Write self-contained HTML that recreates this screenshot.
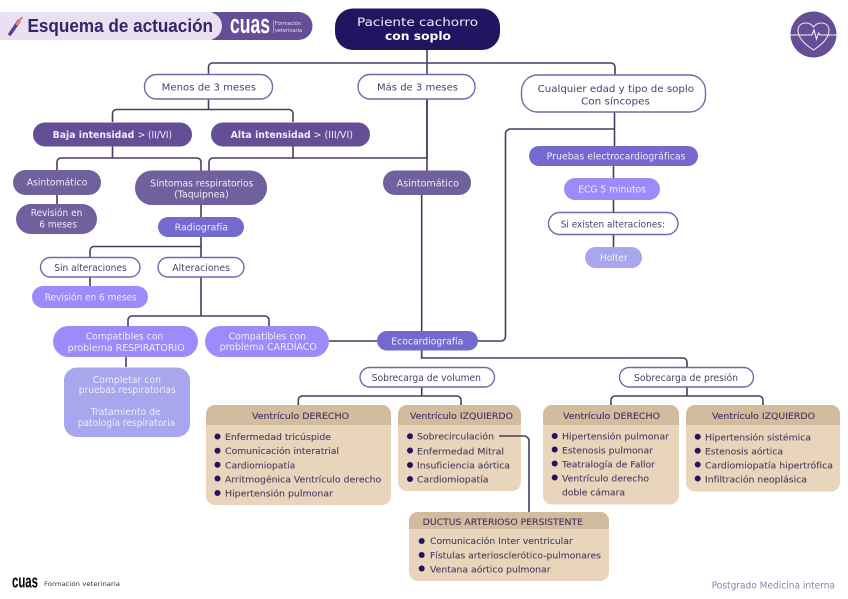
<!DOCTYPE html>
<html lang="es"><head><meta charset="utf-8"><title>Esquema de actuación</title>
<style>
html,body{margin:0;padding:0;background:#fff;width:848px;height:599px;overflow:hidden}
svg{display:block}
text{font-family:"DejaVu Sans","Liberation Sans",sans-serif;font-size:9.3px;fill:#4a3f6b}
.w{fill:#f0ebfa}
.b{font-weight:bold}
.p{fill:#fff;stroke:#7766a8;stroke-width:1.4}
.l{fill:none;stroke:#4a3a62;stroke-width:1.6}
.t{fill:#4a3f63;font-size:9.1px;stroke:#4a3f63;stroke-width:.12}
.h{fill:#3f3566;font-size:9.1px;stroke:#3f3566;stroke-width:.12}
.d{fill:#231462}
</style></head><body>
<svg width="848" height="599" viewBox="0 0 848 599" xmlns="http://www.w3.org/2000/svg">
<rect width="848" height="599" fill="#fff"/>
<!-- connectors -->
<g class="l">
<path d="M427 49V195"/>
<path d="M208.500 74V67a4 4 0 0 1 4-4H611a4 4 0 0 1 4 4V75"/>
<path d="M421.700 195V358M421.700 367V396M427 99V158"/>
<path d="M208.500 99V109.500M112.500 122V113.500a4 4 0 0 1 4-4H289a4 4 0 0 1 4 4V122"/>
<path d="M112.500 146V158M57 170V162a4 4 0 0 1 4-4H197a4 4 0 0 1 4 4V171"/>
<path d="M293 146V158M209 171V162a4 4 0 0 1 4-4H427"/>
<path d="M57 195V204M201 205V257M201 246.500H94a4 4 0 0 0-4 4V257M90 277V286"/>
<path d="M201 277V316M128 326V320a4 4 0 0 1 4-4H265a4 4 0 0 1 4 4V326M126 357V367"/>
<path d="M329 341H377M477 341H501a4.500 4.500 0 0 0 4.500-4.500V134a5 5 0 0 1 5-5H614.500"/>
<path d="M614.500 112V147M613.500 166V247"/>
<path d="M421.700 350V358H683a4 4 0 0 1 4 4V367M687 387V396"/>
<path d="M298.300 405V400a4 4 0 0 1 4-4H457a4 4 0 0 1 4 4V405"/>
<path d="M611 405V400a4 4 0 0 1 4-4H759a4 4 0 0 1 4 4V405"/>
</g>
<!-- header -->
<rect x="200" y="12" width="112.500" height="28" rx="14" fill="#644f97"/>
<path d="M0 12H208a14 14 0 0 1 0 28H0Z" fill="#e9e1f1"/>
<path d="M10 34L19 21" stroke="#5a3fa0" stroke-width="3.500" stroke-linecap="round"/>
<path d="M17 24L21.500 18" stroke="#ee8a6a" stroke-width="2.500" stroke-linecap="round"/>
<text class="b" x="27.500" y="32" textLength="185.500" lengthAdjust="spacingAndGlyphs" style="font-family:'Liberation Sans',sans-serif;font-size:18.500px;fill:#2f2766">Esquema de actuación</text>
<text class="b" x="230" y="33" textLength="40" lengthAdjust="spacingAndGlyphs" style="font-family:'Liberation Sans',sans-serif;font-size:27px;fill:#fff">cuas</text>
<rect x="273" y="20" width="0.600" height="13" fill="#d8d0ea"/>
<text x="275" y="25" textLength="26" lengthAdjust="spacingAndGlyphs" style="font-size:5px;fill:#e8e2f4">Formación</text>
<text x="275" y="32" textLength="27" lengthAdjust="spacingAndGlyphs" style="font-size:5px;fill:#e8e2f4">veterinaria</text>
<!-- heart icon -->
<circle cx="813.500" cy="34.500" r="23" fill="#644f97"/>
<path d="M813.500 50C806 45 798.500 39 798 31C797.700 25 802 23 806 23C809.500 23 812 25 813.500 27C815 25 817.500 23 821 23C825 23 829.300 25 829 31C828.500 39 821 45 813.500 50Z" fill="none" stroke="#e9e1f1" stroke-width="1.100"/>
<path d="M790.500 35H812L814 30L816.500 39L818.500 33L820 35H836.500" fill="none" stroke="#f4f0fa" stroke-width="1.100"/>
<!-- root -->
<rect x="335" y="8.500" width="165" height="41.500" rx="18" fill="#231462"/>
<text class="w" x="357" y="26" textLength="121" lengthAdjust="spacingAndGlyphs" style="font-size:11.500px">Paciente cachorro</text>
<text class="b" x="385" y="40" textLength="66" lengthAdjust="spacingAndGlyphs" style="font-size:11.500px;fill:#fff">con soplo</text>
<!-- level 1 -->
<rect class="p" x="144.500" y="74.500" width="128" height="24.500" rx="12"/>
<text x="161.700" y="90.500" textLength="94.300" lengthAdjust="spacingAndGlyphs">Menos de 3 meses</text>
<rect class="p" x="358" y="74.500" width="117" height="24.500" rx="12"/>
<text x="377" y="90.500" textLength="81" lengthAdjust="spacingAndGlyphs">Más de 3 meses</text>
<rect class="p" x="521.500" y="75" width="184" height="37" rx="16"/>
<text x="537.600" y="92" textLength="156.400" lengthAdjust="spacingAndGlyphs">Cualquier edad y tipo de soplo</text>
<text x="581" y="104.500" textLength="69" lengthAdjust="spacingAndGlyphs">Con síncopes</text>
<!-- intensity -->
<rect x="33" y="122.500" width="159" height="24" rx="12" fill="#644f97"/>
<text class="w b" x="52.700" y="138" textLength="81.600" lengthAdjust="spacingAndGlyphs">Baja intensidad</text>
<text class="w" x="137.700" y="138" textLength="34.300" lengthAdjust="spacingAndGlyphs">&gt; (II/VI)</text>
<rect x="211" y="122.500" width="159" height="24" rx="12" fill="#644f97"/>
<text class="w b" x="230.700" y="138" textLength="80" lengthAdjust="spacingAndGlyphs">Alta intensidad</text>
<text class="w" x="313.500" y="138" textLength="39.500" lengthAdjust="spacingAndGlyphs">&gt; (III/VI)</text>
<!-- left branch -->
<rect x="13" y="170" width="88" height="25" rx="12.500" fill="#70609d"/>
<text class="w" x="26.700" y="185.500" textLength="60.600" lengthAdjust="spacingAndGlyphs">Asintomático</text>
<rect x="16" y="204" width="81" height="30" rx="15" fill="#70609d"/>
<text class="w" x="30.700" y="216" textLength="51.600" lengthAdjust="spacingAndGlyphs">Revisión en</text>
<text class="w" x="39.300" y="227.500" textLength="37.700" lengthAdjust="spacingAndGlyphs">6 meses</text>
<rect x="135" y="170.500" width="132" height="34.500" rx="17" fill="#70609d"/>
<text class="w" x="150.300" y="186.500" textLength="103" lengthAdjust="spacingAndGlyphs">Síntomas respiratorios</text>
<text class="w" x="174.300" y="197.500" textLength="54.400" lengthAdjust="spacingAndGlyphs">(Taquipnea)</text>
<rect x="158" y="217" width="86" height="20" rx="10" fill="#7568cf"/>
<text class="w" x="174.700" y="230.500" textLength="53.300" lengthAdjust="spacingAndGlyphs">Radiografía</text>
<rect class="p" x="40.500" y="257.500" width="99.500" height="19.500" rx="9.700"/>
<text x="54.300" y="271" textLength="72.400" lengthAdjust="spacingAndGlyphs">Sin alteraciones</text>
<rect class="p" x="158" y="257.500" width="86" height="19.500" rx="9.700"/>
<text x="172.300" y="271" textLength="57.700" lengthAdjust="spacingAndGlyphs">Alteraciones</text>
<rect x="32" y="286" width="116" height="22" rx="11" fill="#9b8bfb"/>
<text class="w" x="44.700" y="300.500" textLength="92" lengthAdjust="spacingAndGlyphs">Revisión en 6 meses</text>
<rect x="53" y="326" width="145" height="31" rx="15.500" fill="#9b8bfb"/>
<text class="w" x="85.700" y="339.500" textLength="77.600" lengthAdjust="spacingAndGlyphs">Compatibles con</text>
<text class="w" x="67.700" y="350.800" textLength="117" lengthAdjust="spacingAndGlyphs">problema RESPIRATORIO</text>
<rect x="205" y="326" width="124" height="31" rx="15.500" fill="#9b8bfb"/>
<text class="w" x="228.700" y="339.500" textLength="77.300" lengthAdjust="spacingAndGlyphs">Compatibles con</text>
<text class="w" x="219.700" y="349.800" textLength="97" lengthAdjust="spacingAndGlyphs">problema CARDÍACO</text>
<rect x="64" y="367.500" width="126" height="69.500" rx="13" fill="#a8a6ec"/>
<text class="w" x="92.700" y="382.800" textLength="68.300" lengthAdjust="spacingAndGlyphs">Completar con</text>
<text class="w" x="78.700" y="393.200" textLength="97" lengthAdjust="spacingAndGlyphs">pruebas respiratorias</text>
<text class="w" x="90.700" y="415.200" textLength="70" lengthAdjust="spacingAndGlyphs">Tratamiento de</text>
<text class="w" x="77.700" y="426.200" textLength="97.600" lengthAdjust="spacingAndGlyphs">patología respiratoria</text>
<!-- center -->
<rect x="383" y="170.500" width="88" height="24.500" rx="12" fill="#70609d"/>
<text class="w" x="396.700" y="186.500" textLength="62.300" lengthAdjust="spacingAndGlyphs">Asintomático</text>
<rect x="377" y="331" width="101" height="19.500" rx="9.700" fill="#7568cf"/>
<text class="w" x="391.300" y="344.500" textLength="72" lengthAdjust="spacingAndGlyphs">Ecocardiografía</text>
<!-- right -->
<rect x="529" y="146" width="169" height="20" rx="10" fill="#7568cf"/>
<text class="w" x="546.700" y="159.500" textLength="138.800" lengthAdjust="spacingAndGlyphs">Pruebas electrocardiográficas</text>
<rect x="564" y="178" width="96" height="22" rx="11" fill="#9b8bfb"/>
<text class="w" x="578.300" y="192.500" textLength="67.700" lengthAdjust="spacingAndGlyphs">ECG 5 minutos</text>
<rect class="p" x="548.500" y="212.500" width="129.500" height="22" rx="11"/>
<text x="560.700" y="227.500" textLength="104.300" lengthAdjust="spacingAndGlyphs">Si existen alteraciones:</text>
<rect x="585" y="247" width="57" height="21" rx="10.500" fill="#a8a6ec"/>
<text class="w" x="600" y="261" textLength="27.700" lengthAdjust="spacingAndGlyphs">Holter</text>
<!-- sobrecarga -->
<rect class="p" x="360" y="367.500" width="134.500" height="19.500" rx="9.700"/>
<text x="371.700" y="381" textLength="109.300" lengthAdjust="spacingAndGlyphs">Sobrecarga de volumen</text>
<rect class="p" x="619.500" y="367.500" width="134" height="19.500" rx="9.700"/>
<text x="634" y="381" textLength="104" lengthAdjust="spacingAndGlyphs">Sobrecarga de presión</text>
<!-- box 1 -->
<rect x="206" y="405" width="185" height="100" rx="9" fill="#e8d5bc"/>
<path d="M206 425V414a9 9 0 0 1 9-9H382a9 9 0 0 1 9 9V425Z" fill="#d3bb9d"/>
<text class="h" x="252" y="419" textLength="97" lengthAdjust="spacingAndGlyphs">Ventrículo DERECHO</text>
<circle class="d" cx="217.500" cy="436.500" r="3"/><circle class="d" cx="217.500" cy="450.700" r="3"/><circle class="d" cx="217.500" cy="464.800" r="3"/><circle class="d" cx="217.500" cy="478.500" r="3"/><circle class="d" cx="217.500" cy="493" r="3"/>
<text class="t" x="225" y="440" textLength="106" lengthAdjust="spacingAndGlyphs">Enfermedad tricúspide</text>
<text class="t" x="225" y="454.200" textLength="114" lengthAdjust="spacingAndGlyphs">Comunicación interatrial</text>
<text class="t" x="225" y="468.300" textLength="70.300" lengthAdjust="spacingAndGlyphs">Cardiomiopatía</text>
<text class="t" x="225" y="482.500" textLength="156.300" lengthAdjust="spacingAndGlyphs">Arritmogénica Ventrículo derecho</text>
<text class="t" x="225" y="496.600" textLength="108" lengthAdjust="spacingAndGlyphs">Hipertensión pulmonar</text>
<!-- box 2 -->
<rect x="398" y="405" width="123" height="86" rx="9" fill="#e8d5bc"/>
<path d="M398 425V414a9 9 0 0 1 9-9H512a9 9 0 0 1 9 9V425Z" fill="#d3bb9d"/>
<text class="h" x="410" y="419" textLength="103" lengthAdjust="spacingAndGlyphs">Ventrículo IZQUIERDO</text>
<circle class="d" cx="410" cy="436.300" r="3"/><circle class="d" cx="410" cy="450.500" r="3"/><circle class="d" cx="410" cy="465" r="3"/><circle class="d" cx="410" cy="479" r="3"/>
<text class="t" x="417" y="439.500" textLength="77" lengthAdjust="spacingAndGlyphs">Sobrecirculación</text>
<text class="t" x="417" y="454.500" textLength="87" lengthAdjust="spacingAndGlyphs">Enfermedad Mitral</text>
<text class="t" x="417" y="468.500" textLength="93" lengthAdjust="spacingAndGlyphs">Insuficiencia aórtica</text>
<text class="t" x="417" y="482.500" textLength="71.500" lengthAdjust="spacingAndGlyphs">Cardiomiopatía</text>
<path class="l" d="M499 436H524a5 5 0 0 1 5 5V512"/>
<!-- box 3 -->
<rect x="543" y="405" width="136" height="99.500" rx="9" fill="#e8d5bc"/>
<path d="M543 425V414a9 9 0 0 1 9-9H670a9 9 0 0 1 9 9V425Z" fill="#d3bb9d"/>
<text class="h" x="563" y="419" textLength="97" lengthAdjust="spacingAndGlyphs">Ventrículo DERECHO</text>
<circle class="d" cx="554.700" cy="436" r="3"/><circle class="d" cx="554.700" cy="449.500" r="3"/><circle class="d" cx="554.700" cy="463.500" r="3"/><circle class="d" cx="554.700" cy="477.500" r="3"/>
<text class="t" x="562" y="439.500" textLength="107" lengthAdjust="spacingAndGlyphs">Hipertensión pulmonar</text>
<text class="t" x="562" y="453.500" textLength="91" lengthAdjust="spacingAndGlyphs">Estenosis pulmonar</text>
<text class="t" x="562" y="467.500" textLength="93" lengthAdjust="spacingAndGlyphs">Teatralogía de Fallor</text>
<text class="t" x="562" y="481.500" textLength="87" lengthAdjust="spacingAndGlyphs">Ventrículo derecho</text>
<text class="t" x="562" y="495.500" textLength="63" lengthAdjust="spacingAndGlyphs">doble cámara</text>
<!-- box 4 -->
<rect x="686" y="405" width="154" height="86.500" rx="9" fill="#e8d5bc"/>
<path d="M686 425V414a9 9 0 0 1 9-9H831a9 9 0 0 1 9 9V425Z" fill="#d3bb9d"/>
<text class="h" x="712" y="419" textLength="103" lengthAdjust="spacingAndGlyphs">Ventrículo IZQUIERDO</text>
<circle class="d" cx="697.700" cy="436.700" r="3"/><circle class="d" cx="697.700" cy="450.700" r="3"/><circle class="d" cx="697.700" cy="464.500" r="3"/><circle class="d" cx="697.700" cy="478.500" r="3"/>
<text class="t" x="705" y="440.500" textLength="106" lengthAdjust="spacingAndGlyphs">Hipertensión sistémica</text>
<text class="t" x="705" y="454.500" textLength="78" lengthAdjust="spacingAndGlyphs">Estenosis aórtica</text>
<text class="t" x="705" y="468.500" textLength="128" lengthAdjust="spacingAndGlyphs">Cardiomiopatía hipertrófica</text>
<text class="t" x="705" y="482.500" textLength="102" lengthAdjust="spacingAndGlyphs">Infiltración neoplásica</text>
<!-- ductus -->
<rect x="409" y="512" width="200" height="69" rx="9" fill="#e8d5bc"/>
<path d="M409 529V521a9 9 0 0 1 9-9H600a9 9 0 0 1 9 9V529Z" fill="#d3bb9d"/>
<text class="h" x="422.700" y="525" textLength="160.300" lengthAdjust="spacingAndGlyphs">DUCTUS ARTERIOSO PERSISTENTE</text>
<circle class="d" cx="421.700" cy="541" r="3"/><circle class="d" cx="421.700" cy="555" r="3"/><circle class="d" cx="421.700" cy="568.500" r="3"/>
<text class="t" x="430" y="544" textLength="142.700" lengthAdjust="spacingAndGlyphs">Comunicación Inter ventricular</text>
<text class="t" x="430" y="558.300" textLength="171" lengthAdjust="spacingAndGlyphs">Fístulas arteriosclerótico-pulmonares</text>
<text class="t" x="430" y="572.300" textLength="120.500" lengthAdjust="spacingAndGlyphs">Ventana aórtico pulmonar</text>
<!-- footer -->
<text class="b" x="12" y="587.500" textLength="26" lengthAdjust="spacingAndGlyphs" style="font-family:'Liberation Sans',sans-serif;font-size:18px;fill:#000">cuas</text>
<text x="44" y="586" textLength="76" lengthAdjust="spacingAndGlyphs" style="font-size:6.500px;fill:#333">Formación veterinaria</text>
<text x="711.700" y="588.500" textLength="123.300" lengthAdjust="spacingAndGlyphs" style="fill:#8a83b0">Postgrado Medicina interna</text>
</svg>
</body></html>
